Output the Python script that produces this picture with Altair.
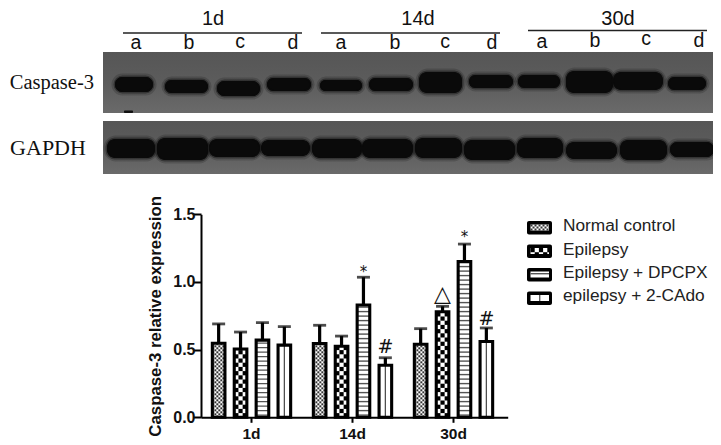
import altair as alt
import pandas as pd

W, H = 705, 437
groups = ["1d", "14d", "30d"]
treatments = ["Normal control", "Epilepsy", "Epilepsy + DPCPX", "epilepsy + 2-CAdo"]
means = [[0.547, 0.505, 0.57, 0.533],
         [0.545, 0.525, 0.83, 0.385],
         [0.54, 0.78, 1.15, 0.56]]
uppers = [[0.69, 0.63, 0.70, 0.67],
          [0.68, 0.60, 1.035, 0.44],
          [0.655, 0.82, 1.28, 0.66]]
marks_txt = [("14d", "Epilepsy + DPCPX", 1.075, "*", 15),
             ("14d", "epilepsy + 2-CAdo", 0.52, "#", 19),
             ("30d", "Epilepsy", 0.91, "△", 22),
             ("30d", "Epilepsy + DPCPX", 1.33, "*", 15),
             ("30d", "epilepsy + 2-CAdo", 0.727, "#", 19)]

# blot photo, in picture pixels
blots = [(103, 721, 52, 113), (103, 721, 121, 174)]
bands_casp = [(115, 153, 77, 92), (165, 208, 80, 93), (217, 260, 81, 96), (267, 311, 78, 91),
              (320, 362, 80, 91), (369, 413, 78, 91), (419, 462, 72, 93), (469, 513, 75, 88),
              (518, 560, 75, 88), (566, 613, 71, 93), (613, 663, 72, 90), (668, 706, 77, 90)]
bands_gapdh = [(107, 155, 139, 158), (157, 208, 138, 160), (209, 260, 139, 157), (261, 310, 140, 156),
               (312, 362, 139, 158), (362, 413, 139, 158), (415, 462, 138, 158), (464, 515, 140, 160),
               (517, 563, 138, 158), (566, 617, 142, 159), (620, 667, 140, 160), (670, 714, 142, 157)]
specks = [(124, 133, 110.5, 113)]
hlines = [(123, 302, 33), (321, 500, 33), (528, 707, 30.5)]
lane_labels = [("a", 136, 43), ("b", 189, 43), ("c", 240, 42), ("d", 293, 43),
               ("a", 341, 43), ("b", 395, 43), ("c", 445, 42), ("d", 492, 43),
               ("a", 542, 42), ("b", 595, 41), ("c", 646, 39), ("d", 699, 41)]
time_labels = [("1d", 213, 18.5), ("14d", 418, 18.5), ("30d", 618, 18.5)]
legend_rows = [221, 244.5, 268, 291.5]
legend_text_y = [226, 250, 273, 296]

page_x = alt.Scale(domain=[0, 721], range=[-8, 713])
page_y = alt.Scale(domain=[0, 445], range=[-8, 437])
group_x = alt.Scale(domain=groups, range=[193, 499.7], paddingInner=0, paddingOuter=0.0183, align=0)
off_x = alt.Scale(domain=treatments, range=[0, 101], paddingInner=0.425, paddingOuter=0.518)
val_y = alt.Scale(domain=[0, 1.5], range=[409.3, 206.3])
PXV = 1 / 135.33


def px(f):
    return alt.X(f, type="quantitative", scale=page_x, axis=None)
def py(f):
    return alt.Y(f, type="quantitative", scale=page_y, axis=None)
def vy(f):
    return alt.Y(f, type="quantitative", scale=val_y, axis=None)
def gx(**k):
    return alt.X("g:N", scale=group_x, axis=None, **k)
def ox():
    return alt.XOffset("t:N", scale=off_x)


def pattern(kind, x0, x1, y0, y1, unit):
    """Hatch cells of one bar or legend swatch; y grows from y0 to y1 with 1 px = unit."""
    out = []
    sign = 1 if y1 > y0 else -1
    hgt = abs(y1 - y0) / abs(unit)
    def cell(a, b, s, e, col):
        out.append(dict(a=a, b=min(b, x1), s=y0 + sign * s * abs(unit), e=y0 + sign * min(e, hgt) * abs(unit), col=col))
    if kind == 0 or kind == 1:
        c = 2.0 if kind == 0 else 4.2
        nx = int((x1 - x0) / c + 0.999)
        ny = int(hgt / c + 0.999)
        for i in range(nx):
            for j in range(ny):
                if (i + j) % 2 == 0:
                    cell(x0 + i * c, x0 + (i + 1) * c, j * c, (j + 1) * c, "#000" if kind == 1 else "#333")
    elif kind == 2:
        y = 1.5
        while y < hgt:
            cell(x0, x1, y, y + 1.4, "#555")
            y += 4.5
    else:
        m = (x0 + x1) / 2
        cell(m - 0.6, m + 0.6, 0, hgt, "#444")
    return out


rows, cells = [], []
for gi, g in enumerate(groups):
    for ti, t in enumerate(treatments):
        rows.append(dict(g=g, t=t, m=means[gi][ti], u=uppers[gi][ti]))
        left = 201 + gi * 101 + 11.34 + 21.9 * ti
        cells += pattern(ti, left, left + 12.6, 0, means[gi][ti], PXV)
bars = pd.DataFrame(rows)
cells = pd.DataFrame(cells)

leg_cells = []
for ti, y in enumerate(legend_rows):
    leg_cells += pattern(ti, 530.5, 549, y + 3.5, y + 9.5, 1)
leg_box = pd.DataFrame([dict(a=527, b=552, s=y, e=y + 13.5) for y in legend_rows])
leg_in = pd.DataFrame([dict(a=530.5, b=549, s=y + 3.5, e=y + 9.5) for y in legend_rows])
leg_cells = pd.DataFrame(leg_cells)

def rect_layer(df, **mk):
    return alt.Chart(df).mark_rect(**mk).encode(x=px("a"), x2="b", y=py("s"), y2="e")

def text_layer(df, font, size, color="#111", align="center", weight="normal"):
    return alt.Chart(df).mark_text(font=font, fontSize=size, color=color, align=align, baseline="middle", fontWeight=weight).encode(
        x=px("x"), y=py("y"), text="s:N")

blot_df = pd.DataFrame(blots, columns=["a", "b", "s", "e"])
band_df = pd.DataFrame(bands_casp + bands_gapdh, columns=["a", "b", "s", "e"])
speck_df = pd.DataFrame(specks, columns=["a", "b", "s", "e"])
line_df = pd.DataFrame(hlines, columns=["a", "b", "s"])
blot_fill = alt.Gradient(gradient="linear", x1=0, y1=0, x2=0, y2=1,
                         stops=[alt.GradientStop(offset=0, color="#565656"), alt.GradientStop(offset=0.5, color="#5c5c5c"),
                                alt.GradientStop(offset=1, color="#6a6a6a")])

layers = [
    alt.Chart(bars).mark_bar(fill="white", stroke=None).encode(
        x=alt.X("g:N", scale=group_x, title=None,
                axis=alt.Axis(offset=-27.7, labelAngle=0, labelFontSize=15.5, labelFont="Liberation Sans", labelFontWeight="bold",
                              labelColor="#111", domainColor="#000", domainWidth=2, tickColor="#000", tickWidth=2, tickSize=5,
                              labelPadding=4, grid=False)),
        xOffset=ox(),
        y=alt.Y("m:Q", scale=val_y, title="Caspase-3 relative expression",
                axis=alt.Axis(values=[0, 0.5, 1.0, 1.5], format=".1f", offset=-193, labelFontSize=16, labelFont="Liberation Sans",
                              labelFontWeight="bold", labelColor="#111", domainColor="#000", domainWidth=2, tickColor="#000",
                              tickWidth=2, tickSize=8, labelPadding=-2, grid=False, titleFont="Liberation Sans", titleFontSize=16.8,
                              titleFontWeight="bold", titleColor="#111", titlePadding=8)),
    ),
    alt.Chart(cells).mark_rect(stroke=None).encode(
        x=px("a"), x2="b", y=vy("s"), y2="e", color=alt.Color("col:N", scale=None)),
    alt.Chart(bars).mark_bar(fillOpacity=0, stroke="#000", strokeWidth=3.1).encode(x=gx(), xOffset=ox(), y=vy("m")),
    alt.Chart(bars).mark_rule(color="#000", strokeWidth=3.2).encode(x=gx(), xOffset=ox(), y=vy("m"), y2="u"),
    alt.Chart(bars).mark_tick(color="#000", thickness=2.8, size=13).encode(x=gx(), xOffset=ox(), y=vy("u")),
    alt.Chart(pd.DataFrame(marks_txt, columns=["g", "t", "v", "s", "fs"])).mark_text(
        font="DejaVu Sans", color="#111", baseline="middle").encode(
        x=gx(), xOffset=ox(), y=vy("v"), text="s:N", size=alt.Size("fs:Q", scale=None, legend=None)),
    # blot photo
    rect_layer(blot_df, fill=blot_fill),
    rect_layer(band_df, fill="#0a0a0a", stroke="#0a0a0a", strokeOpacity=0.18, strokeWidth=7, cornerRadius=9),
    rect_layer(band_df, fill="#0a0a0a", stroke="#0a0a0a", strokeOpacity=0.4, strokeWidth=3, cornerRadius=8),
    rect_layer(speck_df, fill="#111", cornerRadius=1),
    alt.Chart(line_df).mark_rule(color="#222", strokeWidth=1.4).encode(x=px("a"), x2="b", y=py("s")),
    text_layer(pd.DataFrame(time_labels, columns=["s", "x", "y"]), "Liberation Sans", 20),
    text_layer(pd.DataFrame(lane_labels, columns=["s", "x", "y"]), "Liberation Sans", 19.5),
    text_layer(pd.DataFrame([("Caspase-3", 94, 83)], columns=["s", "x", "y"]), "Liberation Serif", 20.5, align="right"),
    text_layer(pd.DataFrame([("GAPDH", 48, 148)], columns=["s", "x", "y"]), "Liberation Serif", 22),
    # legend
    rect_layer(leg_box, fill="#000", cornerRadius=2),
    rect_layer(leg_in, fill="#fff"),
    alt.Chart(leg_cells).mark_rect(stroke=None).encode(x=px("a"), x2="b", y=py("s"), y2="e", color=alt.Color("col:N", scale=None)),
    text_layer(pd.DataFrame({"s": treatments, "x": [563] * 4, "y": legend_text_y}), "Liberation Sans", 17.3, color="#222", align="left"),
]

chart = alt.layer(*layers).resolve_scale(x="independent", y="independent", color="independent").properties(
    width=W, height=H, padding=0, autosize=alt.AutoSizeParams(type="none")
).configure_view(stroke=None)

chart.save("out.html", embed_options={"renderer": "svg", "actions": False})
